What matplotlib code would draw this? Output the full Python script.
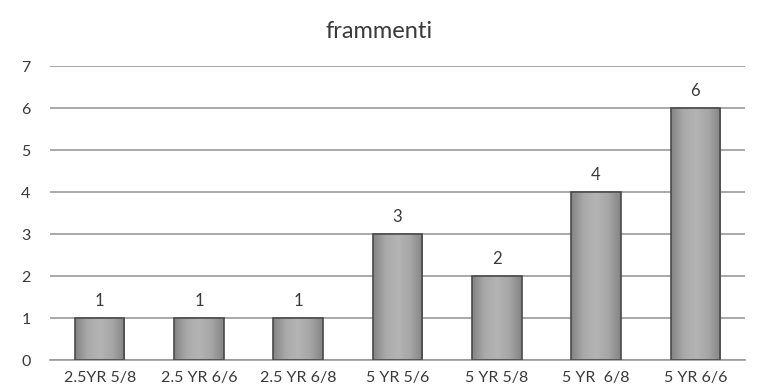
import numpy as np
import matplotlib.pyplot as plt
from matplotlib.colors import LinearSegmentedColormap

categories = ['2.5YR 5/8', '2.5 YR 6/6', '2.5 YR 6/8', '5 YR 5/6', '5 YR 5/8', '5 YR  6/8', '5 YR 6/6']
counts = [1, 1, 1, 3, 2, 4, 6]

plt.rcParams['font.family'] = ['Lato', 'DejaVu Sans']

fig = plt.figure(figsize=(7.59, 3.92), dpi=100)
ax = fig.add_axes([50 / 759, 32 / 392, 695 / 759, 294 / 392])

x = np.arange(len(categories))
bars = ax.bar(x, counts, width=0.5, color='none', edgecolor='#4a4a4a', linewidth=1.2, zorder=3)

# horizontal gray gradient inside each bar
grad = LinearSegmentedColormap.from_list('g', ['#838383', '#a9a9a9', '#b4b4b4', '#a6a6a6', '#848484'])
row = np.linspace(0, 1, 256).reshape(1, -1)
for b in bars:
    x0, w, h = b.get_x(), b.get_width(), b.get_height()
    im = ax.imshow(row, cmap=grad, aspect='auto', extent=(x0, x0 + w, 0, h), zorder=2)
    im.set_clip_path(b)
    ax.text(x0 + w / 2, h + 0.22, str(h), ha='center', va='bottom', fontsize=12, color='#3a3a3a')

ax.set_xlim(-0.5, len(categories) - 0.5)
ax.set_ylim(0, 7)
ax.set_yticks(range(8))
ax.set_xticks(x)
ax.set_xticklabels(categories, fontsize=11.5, color='#3a3a3a')
ax.tick_params(axis='y', labelsize=11.5, labelcolor='#3a3a3a', length=0, pad=14)
ax.tick_params(axis='x', length=0, pad=8)
ax.grid(axis='y', color='#9a9a9a', linewidth=1.2, zorder=0)
for s in ['top', 'right', 'left']:
    ax.spines[s].set_visible(False)
ax.spines['bottom'].set_color('#9a9a9a')
ax.spines['bottom'].set_linewidth(1.2)

fig.text(0.5, 1 - 32 / 392, 'frammenti', ha='center', va='center', fontsize=17, color='#3a3a3a')

fig.savefig('out.png', dpi=100)
